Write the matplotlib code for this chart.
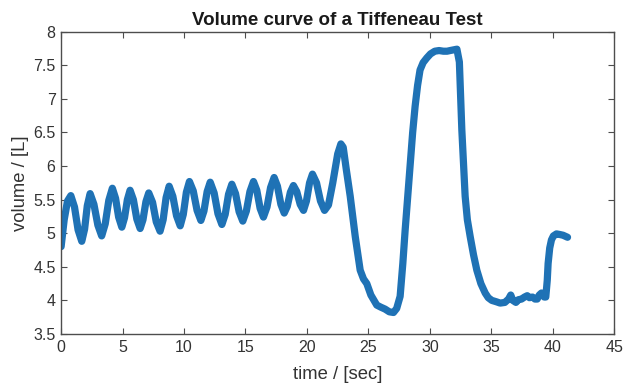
import numpy as np
import matplotlib
matplotlib.use("Agg")
import matplotlib.pyplot as plt

plt.rcParams['font.family'] = ['Liberation Sans', 'DejaVu Sans']

# volume trace (time in sec, volume in L)
time_sec = [
    0.00, 0.25, 0.52, 0.79, 1.09, 1.38, 1.68, 1.91, 2.13, 2.36,
    2.67, 2.99, 3.30, 3.59, 3.88, 4.17, 4.43, 4.68, 4.94, 5.16,
    5.39, 5.61, 5.88, 6.16, 6.43, 6.66, 6.90, 7.13, 7.44, 7.74,
    8.05, 8.30, 8.54, 8.79, 9.09, 9.39, 9.69, 9.94, 10.19, 10.44,
    10.75, 11.06, 11.37, 11.62, 11.88, 12.13, 12.45, 12.76, 13.08, 13.35,
    13.62, 13.89, 14.19, 14.48, 14.78, 15.07, 15.36, 15.65, 15.92, 16.19,
    16.46, 16.75, 17.04, 17.33, 17.60, 17.88, 18.15, 18.40, 18.65, 18.90,
    19.17, 19.45, 19.72, 19.96, 20.21, 20.45, 20.78, 21.10, 21.43, 21.75,
    22.10, 22.50, 22.76, 22.95, 23.20, 23.52, 23.93, 24.33, 24.60, 24.87,
    25.20, 25.68, 26.00, 26.36, 26.70, 27.04, 27.30, 27.58, 27.80, 27.99,
    28.20, 28.40, 28.60, 28.80, 29.00, 29.20, 29.45, 29.75, 30.05, 30.40,
    30.75, 31.10, 31.40, 31.65, 31.95, 32.20, 32.40, 32.50, 32.60, 32.73,
    32.87, 33.05, 33.28, 33.55, 33.82, 34.15, 34.50, 34.75, 35.04, 35.40,
    35.72, 36.10, 36.40, 36.58, 36.75, 37.00, 37.20, 37.46, 37.70, 37.92,
    38.10, 38.35, 38.55, 38.73, 38.90, 39.08, 39.30, 39.43, 39.55, 39.62,
    39.75, 39.89, 40.05, 40.30, 40.60, 40.84, 41.20,
]
volume_l = [
    4.80, 5.20, 5.48, 5.56, 5.39, 5.05, 4.88, 5.06, 5.41, 5.59,
    5.43, 5.12, 4.96, 5.14, 5.49, 5.67, 5.52, 5.24, 5.09, 5.23,
    5.50, 5.64, 5.50, 5.21, 5.07, 5.20, 5.47, 5.60, 5.46, 5.17,
    5.03, 5.20, 5.53, 5.70, 5.55, 5.26, 5.11, 5.28, 5.61, 5.77,
    5.63, 5.34, 5.19, 5.33, 5.62, 5.76, 5.60, 5.29, 5.13, 5.28,
    5.58, 5.73, 5.59, 5.32, 5.18, 5.33, 5.62, 5.77, 5.64, 5.37,
    5.24, 5.39, 5.68, 5.83, 5.70, 5.43, 5.30, 5.40, 5.61, 5.71,
    5.62, 5.43, 5.34, 5.48, 5.75, 5.88, 5.75, 5.48, 5.34, 5.42,
    5.75, 6.18, 6.33, 6.28, 5.95, 5.55, 4.95, 4.45, 4.32, 4.25,
    4.08, 3.93, 3.90, 3.87, 3.83, 3.82, 3.88, 4.06, 4.55, 5.05,
    5.55, 6.04, 6.50, 6.89, 7.20, 7.43, 7.54, 7.61, 7.67, 7.71,
    7.72, 7.71, 7.71, 7.72, 7.73, 7.74, 7.55, 7.05, 6.54, 6.05,
    5.55, 5.20, 4.95, 4.68, 4.45, 4.25, 4.11, 4.04, 4.00, 3.98,
    3.96, 3.97, 4.02, 4.08, 4.00, 3.97, 4.01, 4.02, 4.05, 4.07,
    4.04, 4.05, 4.02, 4.02, 4.08, 4.11, 4.05, 4.05, 4.30, 4.55,
    4.78, 4.90, 4.96, 4.99, 4.98, 4.97, 4.94,
]

x_ticks = [0, 5, 10, 15, 20, 25, 30, 35, 40, 45]
y_ticks = [3.5, 4, 4.5, 5, 5.5, 6, 6.5, 7, 7.5, 8]
y_ticklabels = ['3.5', '4', '4.5', '5', '5.5', '6', '6.5', '7', '7.5', '8']

fig = plt.figure(figsize=(6.3, 3.87), dpi=100)
ax = fig.add_axes([0.097, 0.137, 0.878, 0.781])

ax.plot(time_sec, volume_l, color='#1f72b5', linewidth=5.2,
        solid_joinstyle='round', solid_capstyle='round')

ax.set_xlim(0, 45)
ax.set_ylim(3.5, 8)
ax.set_xticks(x_ticks)
ax.set_yticks(y_ticks)
ax.set_yticklabels(y_ticklabels)

grey = '#4d4d4d'
for s in ax.spines.values():
    s.set_color(grey)
    s.set_linewidth(1.0)
ax.tick_params(direction='in', top=True, right=True, length=4, width=0.8,
               colors=grey, labelcolor='#333333', labelsize=11.5, pad=4)

ax.set_xlabel('time / [sec]', fontsize=13.3, color='#333333', labelpad=8)
ax.set_ylabel('volume / [L]', fontsize=13.3, color='#333333', labelpad=3)
ax.set_title('Volume curve of a Tiffeneau Test', fontsize=13.5,
             fontweight='bold', color='#1a1a1a', pad=5)

fig.savefig('out.png', dpi=100)
